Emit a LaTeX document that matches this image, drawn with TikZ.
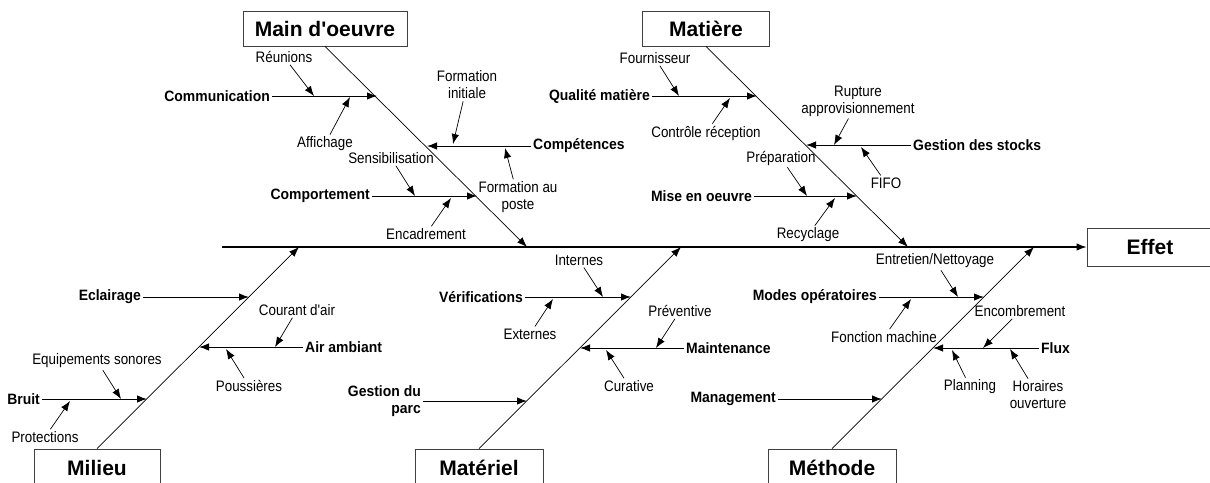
\documentclass[tikz,border=0pt]{standalone}
\usepackage{fontspec}
\setmainfont{Liberation Sans}[Ligatures=TeXOff]
\newfontfamily\causefont{Liberation Sans}[Ligatures=TeXOff, FakeStretch=0.93]
\newfontfamily\detailfont{Liberation Sans}[Ligatures=TeXOff, FakeStretch=0.88]
\usetikzlibrary{arrows.meta}

\begin{document}
\begin{tikzpicture}[x=1pt, y=-1pt,
box/.style={
		draw=black!75,
		line width=0.9pt,
		font=\fontsize{21}{24}\selectfont\bfseries,
		inner sep=0pt,
		},
cause/.style={font=\causefont\fontsize{15}{17.5}\selectfont\bfseries, inner sep=2pt, align=right},
detail/.style={font=\detailfont\fontsize{15.2}{17}\selectfont, inner sep=2pt, align=center},
spine/.style={->, line width=1.1pt},
bone/.style={->, line width=0.7pt},
branch/.style={->, line width=1pt},
twig/.style={->, line width=0.7pt},
>={Latex[length=10pt, width=7.5pt]}
]

\useasboundingbox (0,0) rectangle (1210,482);

% the effect and the spine
\node[box, minimum width=126pt, minimum height=38pt] (ef) at (1150,247) {Effet};
\coordinate (tail) at (222,247);
\draw[spine] (tail) -- (ef);

% the five categories
\node[box, minimum width=164pt, minimum height=35pt] (mo) at (325,28.5) {Main d'oeuvre};
\node[box, minimum width=127pt, minimum height=35pt] (ma) at (706,28.5) {Matière};
\node[box, minimum width=126pt, minimum height=38pt] (mi) at (97,468) {Milieu};
\node[box, minimum width=128pt, minimum height=38pt] (mt) at (479,468) {Matériel};
\node[box, minimum width=128pt, minimum height=38pt] (me) at (832,468) {Méthode};

\coordinate (mo-e) at (527,247);
\coordinate (ma-e) at (908,247);
\coordinate (mi-e) at (299,247);
\coordinate (mt-e) at (681,247);
\coordinate (me-e) at (1034,247);

\draw[bone] (mo.south) -- (mo-e);
\draw[bone] (ma.south) -- (ma-e);
\draw[bone] (mi.north) -- (mi-e);
\draw[bone] (mt.north) -- (mt-e);
\draw[bone] (me.north) -- (me-e);

% causes
\node[cause, anchor=east] (comm) at (272,96) {Communication};
\node[cause, anchor=west] (comp) at (531,146) {Compétences};
\node[cause, anchor=east] (compo) at (372,196) {Comportement};
\node[cause, anchor=east] (qual) at (652,96) {Qualité matière};
\node[cause, anchor=west] (gest) at (911,145) {Gestion des stocks};
\node[cause, anchor=east] (mise) at (754,196) {Mise en oeuvre};
\node[cause, anchor=east] (ecla) at (143,297) {Eclairage};
\node[cause, anchor=west] (air) at (303,347) {Air ambiant};
\node[cause, anchor=east] (brui) at (42,399) {Bruit};
\node[cause, anchor=east] (veri) at (525,297) {Vérifications};
\node[cause, anchor=west] (main) at (684,348) {Maintenance};
\node[cause, anchor=east] (parc) at (423,401) {Gestion du\\parc};
\node[cause, anchor=east] (mode) at (879,297) {Modes opératoires};
\node[cause, anchor=west] (flux) at (1039,348) {Flux};
\node[cause, anchor=east] (mana) at (778,399) {Management};

\coordinate (comm-e) at (377,96);
\coordinate (comp-e) at (427,146);
\coordinate (compo-e) at (477,196);
\coordinate (qual-e) at (757,96);
\coordinate (gest-e) at (806,145);
\coordinate (mise-e) at (857,196);
\coordinate (ecla-e) at (249,297);
\coordinate (air-e) at (199,347);
\coordinate (brui-e) at (147,399);
\coordinate (veri-e) at (631,297);
\coordinate (main-e) at (580,348);
\coordinate (parc-e) at (527,401);
\coordinate (mode-e) at (984,297);
\coordinate (flux-e) at (933,348);
\coordinate (mana-e) at (882,399);

\foreach \c in {comm,comp,compo,qual,gest,mise,ecla,air,brui,veri,main,parc,mode,flux,mana}
  \draw[branch] (\c) -- (\c-e);

% sub-causes
\node[detail] (reun) at (284,57) {Réunions};
\node[detail] (affi) at (325,144) {Affichage};
\node[detail] (fini) at (467,85) {Formation\\initiale};
\node[detail] (fpos) at (518,197) {Formation au\\poste};
\node[detail] (sens) at (391,158) {Sensibilisation};
\node[detail] (enca) at (426,234) {Encadrement};
\node[detail] (four) at (655,58) {Fournisseur};
\node[detail] (ctrl) at (706,133) {Contrôle réception};
\node[detail] (rupt) at (858,101) {Rupture\\approvisionnement};
\node[detail] (fifo) at (886,183) {FIFO};
\node[detail] (prep) at (781,158) {Préparation};
\node[detail] (recy) at (808,235) {Recyclage};
\node[detail] (cour) at (297,310) {Courant d'air};
\node[detail] (pous) at (249,386) {Poussières};
\node[detail] (equi) at (97,361) {Equipements sonores};
\node[detail] (prot) at (45,437) {Protections};
\node[detail] (inte) at (579,260) {Internes};
\node[detail] (exte) at (530,334) {Externes};
\node[detail] (prev) at (680,311) {Préventive};
\node[detail] (cura) at (629,386) {Curative};
\node[detail] (entr) at (935,261) {Entretien/Nettoyage};
\node[detail] (fonc) at (884,337) {Fonction machine};
\node[detail] (enco) at (1020,311) {Encombrement};
\node[detail] (plan) at (970,387) {Planning};
\node[detail] (hora) at (1038,395) {Horaires\\ouverture};

\coordinate (reun-e) at (314,96);
\coordinate (affi-e) at (350,97);
\coordinate (fini-e) at (453,144);
\coordinate (fpos-e) at (505,148);
\coordinate (sens-e) at (415,196);
\coordinate (enca-e) at (451,198);
\coordinate (four-e) at (679,96);
\coordinate (ctrl-e) at (730,98);
\coordinate (rupt-e) at (834,145);
\coordinate (fifo-e) at (861,147);
\coordinate (prep-e) at (807,196);
\coordinate (recy-e) at (835,198);
\coordinate (cour-e) at (275,347);
\coordinate (pous-e) at (226,349);
\coordinate (equi-e) at (121,399);
\coordinate (prot-e) at (70,401);
\coordinate (inte-e) at (603,297);
\coordinate (exte-e) at (553,299);
\coordinate (prev-e) at (656,348);
\coordinate (cura-e) at (606,350);
\coordinate (entr-e) at (958,297);
\coordinate (fonc-e) at (911,299);
\coordinate (enco-e) at (983,348);
\coordinate (plan-e) at (952,350);
\coordinate (hora-e) at (1010,349);

\foreach \s in {reun,affi,fini,fpos,sens,enca,four,ctrl,rupt,fifo,prep,recy,cour,pous,equi,prot,inte,exte,prev,cura,entr,fonc,enco,plan,hora}
  \draw[twig] (\s) -- (\s-e);

\end{tikzpicture}
\end{document}
